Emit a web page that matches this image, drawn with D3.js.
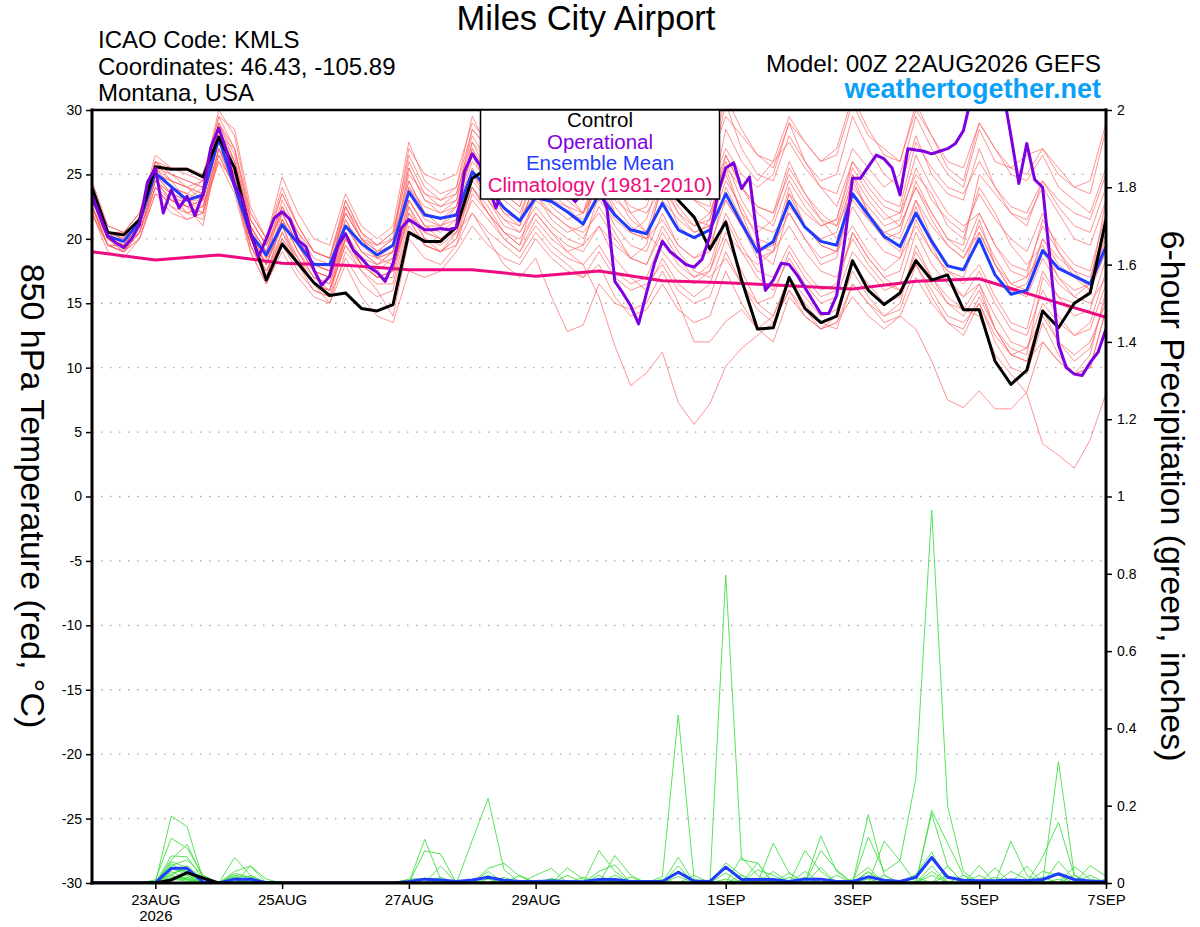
<!DOCTYPE html>
<html><head><meta charset="utf-8">
<script src="https://cdn.jsdelivr.net/npm/d3@7"></script>
<style>
body{margin:0;background:#fff}
svg{display:block}
text{font-family:"Liberation Sans",Arial,Helvetica,sans-serif}
</style>
</head><body>
<svg id="c" width="1200" height="927"></svg>
<script>
// ---------------- DATA ----------------
const startTime = Date.UTC(2026, 7, 22, 0);
const endTime = Date.UTC(2026, 8, 7, 0);
const tempTicks = [-30,-25,-20,-15,-10,-5,0,5,10,15,20,25,30];
const precipTicks = [0,0.2,0.4,0.6,0.8,1,1.2,1.4,1.6,1.8,2];
const precipTickLabels = ["0","0.2","0.4","0.6","0.8","1","1.2","1.4","1.6","1.8","2"];
const xTickDates = ["2026-08-23","2026-08-25","2026-08-27","2026-08-29","2026-09-01","2026-09-03","2026-09-05","2026-09-07"];
const xTickLabels = ["23AUG","25AUG","27AUG","29AUG","1SEP","3SEP","5SEP","7SEP"];
const xTickSubLabels = ["2026","","","","","","",""];
const legendLabels = ["Control","Operational","Ensemble Mean","Climatology (1981-2010)"];

// 6-hourly control (black)
const controlTemp = [24.0,20.5,20.3,21.5, 25.6,25.4,25.4,24.8, 27.9,25.5,20.5,16.8, 19.6,18.1,16.6,15.6, 15.8,14.6,14.4,14.9, 20.5,19.8,19.8,20.9, 24.7,25.5,25.0,24.3, 25.2,24.6,25.4,24.0, 25.0,25.8,24.6,25.3, 24.4,23.0,21.7,19.2, 21.3,16.8,13.0,13.1, 17.0,14.6,13.5,14.0, 18.3,16.0,14.9,15.8, 18.3,16.8,17.2,14.5, 14.5,10.5,8.7,9.8, 14.4,13.1,15.0,15.8, 21.5];
// 6-hourly ensemble mean (blue)
const meanTemp = [23.3,20.2,19.8,21.3, 25.1,24.05,23.0,23.4, 27.8,24.05,20.4,18.75, 21.1,19.65,18.0,18.0, 21.0,19.65,18.75,19.5, 23.65,21.85,21.6,21.85, 25.2,23.9,22.4,21.4, 23.2,22.9,22.1,21.15, 23.5,21.85,20.7,20.4, 22.75,20.7,20.1,20.7, 23.5,21.2,19.0,19.8, 22.9,20.9,19.8,19.5, 23.5,21.85,20.2,19.4, 22.0,19.8,17.9,17.6, 20.0,17.2,15.7,16.0, 19.1,17.7,17.1,16.5, 19.4];
// 3-hourly operational (purple)
const operationalTemp = [23.4,21.8,20.2,19.7,19.3,20.0,21.1,24.4, 25.5,22.0,23.8,22.4,23.3,21.8,23.5,27.1, 28.6,26.8,24.2,23.0,20.5,18.6,20.0,21.6, 22.1,21.5,19.9,19.4,17.6,16.4,17.1,19.4, 20.4,19.1,18.5,17.8,17.4,16.7,18.1,20.8, 21.5,21.1,20.7,20.7,20.8,20.7,20.9,25.2, 26.6,25.7,24.0,22.4,24.2,25.5,25.0,24.4, 24.0,24.6,25.2,24.1,23.5,22.9,23.6,24.6, 24.0,22.4,16.7,15.8,14.8,13.4,15.8,18.1, 19.8,19.0,18.5,18.0,17.8,18.4,20.2,23.5, 25.5,25.9,23.9,24.8,20.0,16.0,16.8,18.1, 18.0,17.2,16.2,15.2,14.2,14.2,15.6,19.8, 24.7,24.7,25.6,26.5,26.2,25.5,23.4,27.0, 26.9,26.8,26.6,26.8,27.0,27.4,28.4,31.0, 32.0,32.4,32.0,31.5,28.0,24.3,27.4,24.6, 24.0,18.0,11.8,10.0,9.5,9.4,10.4,11.2, 13.0];
// daily climatology (pink)
const climTemp = [19.0,18.35,18.75,18.1,17.95,17.6,17.6,17.1,17.5,16.75,16.6,16.35,16.1,16.7,16.9,15.4,13.9];

// 6-hourly ensemble members (red)
const memberTemp = [
[23.5,20.0,19.5,21.0, 25.5,24.0,23.5,23.0, 28.5,24.5,20.0,18.0, 22.0,19.5,17.5,17.0, 21.5,19.0,18.0,19.0, 24.5,22.0,21.0,22.5, 26.5,24.0,22.0,21.0, 24.5,23.0,22.5,21.0, 25.0,22.0,20.5,20.0, 24.0,21.0,20.0,21.5, 25.5,22.0,19.0,19.5, 24.0,21.0,19.5,19.0, 25.0,22.0,20.0,19.0, 23.0,20.0,18.0,17.5, 21.5,18.0,16.0,16.5, 20.0,18.0,17.0,16.0, 20.5],
[23.0,20.5,20.0,21.5, 25.0,24.5,24.0,23.5, 29.0,26.0,21.0,19.0, 23.0,20.5,18.5,18.0, 22.0,20.0,19.5,20.5, 25.5,23.0,22.5,23.5, 28.0,26.0,24.0,23.0, 27.0,26.0,25.0,24.5, 29.0,26.5,25.0,24.0, 28.0,25.5,24.0,25.0, 30.5,27.0,25.0,24.5, 28.0,26.0,24.5,25.0, 29.5,27.0,25.0,24.0, 28.0,25.0,23.5,23.0, 27.0,24.0,22.0,21.5, 24.0,22.0,20.0,19.5, 23.0],
[22.5,19.5,19.5,20.5, 24.0,22.5,22.0,22.5, 27.0,25.0,20.5,18.5, 21.5,19.0,17.0,16.5, 20.0,18.0,17.5,18.5, 23.0,21.0,21.0,22.0, 27.5,25.0,23.5,22.5, 26.0,24.0,23.0,23.5, 27.5,25.0,24.0,23.0, 27.0,26.0,25.5,26.0, 29.5,28.0,26.5,25.5, 29.0,27.5,26.0,26.5, 30.5,28.0,27.0,26.0, 30.0,28.0,26.0,25.5, 29.0,27.0,25.0,24.5, 26.5,24.0,23.0,22.0, 25.5],
[24.5,21.0,20.5,22.0, 26.5,25.5,25.0,24.5, 30.0,28.0,22.0,20.0, 24.8,22.0,20.0,19.5, 23.5,21.0,20.0,21.0, 27.5,24.5,23.5,24.0, 29.5,27.0,25.5,26.0, 31.0,28.0,26.0,25.0, 28.0,26.0,24.5,25.5, 30.0,27.0,25.0,24.0, 27.0,25.0,24.0,25.0, 29.0,26.0,24.0,23.5, 27.0,25.5,24.0,25.0, 29.5,27.0,25.0,24.0, 28.5,26.0,25.5,25.0, 27.0,25.0,24.0,23.5, 28.5],
[23.0,20.0,19.0,21.0, 25.5,25.0,24.5,24.0, 28.0,27.0,21.5,19.5, 22.5,20.0,18.0,17.5, 21.5,19.5,18.5,19.0, 24.0,22.5,22.0,23.0, 28.5,27.0,25.0,24.0, 29.0,27.0,25.5,24.0, 27.0,25.0,23.5,23.0, 26.5,24.0,23.0,22.5, 28.5,26.0,24.5,26.0, 27.5,25.5,24.0,22.5, 26.0,24.0,22.5,22.0, 25.0,23.5,21.0,20.0, 24.0,22.0,19.5,18.0, 19.5,17.0,15.5,15.0, 17.0],
[22.0,19.5,19.0,20.5, 24.5,23.0,22.5,23.0, 27.5,25.0,20.0,18.0, 21.0,19.5,17.5,17.0, 21.0,19.0,18.5,19.0, 23.5,21.5,21.0,21.5, 25.0,23.0,21.0,20.5, 22.5,21.0,20.0,19.5, 23.5,21.0,19.5,19.0, 22.0,19.5,18.5,19.5, 23.0,21.0,18.5,19.0, 23.5,21.0,20.0,20.5, 24.5,22.0,20.5,20.0, 23.0,21.0,19.5,18.5, 21.0,18.5,16.5,16.0, 20.0,18.5,17.5,17.0, 21.0],
[23.5,20.5,20.0,21.5, 25.0,23.5,22.0,21.5, 26.5,24.0,19.5,17.0, 20.5,18.5,16.5,16.0, 19.5,18.0,17.0,17.5, 22.5,20.0,19.5,20.5, 24.0,22.5,20.5,19.5, 23.5,21.5,20.5,21.0, 26.0,23.5,21.5,20.5, 24.5,22.0,21.0,22.0, 26.0,23.0,21.0,20.5, 22.0,20.0,18.5,19.0, 22.5,20.5,19.0,18.5, 21.0,19.0,17.5,17.0, 20.5,18.0,16.5,17.0, 21.5,19.5,18.0,17.5, 22.0],
[22.5,20.0,19.5,21.0, 25.0,24.0,23.5,24.5, 28.5,25.5,21.0,19.0, 22.5,20.5,19.0,18.5, 23.0,20.5,19.0,20.0, 24.5,22.0,21.5,22.0, 26.0,24.5,22.5,21.5, 24.0,23.0,22.0,21.5, 23.0,21.5,20.5,21.5, 25.5,23.0,21.5,21.0, 24.5,22.5,20.0,19.5, 22.0,20.0,18.0,18.5, 24.0,22.5,21.0,21.5, 25.5,23.0,21.5,20.5, 23.5,21.5,20.0,19.0, 22.0,19.0,17.5,16.0, 19.0],
[23.0,20.0,19.5,21.0, 26.0,24.5,23.0,22.5, 27.0,24.5,20.5,18.0, 21.5,19.0,17.0,16.5, 21.0,19.0,18.0,18.5, 24.0,22.0,21.5,22.5, 27.0,24.0,22.0,21.5, 25.5,24.0,23.0,22.0, 24.5,23.0,22.0,22.5, 26.0,24.5,23.0,22.0, 25.0,22.0,20.5,21.5, 25.5,23.5,22.0,21.0, 25.0,23.0,21.5,22.0, 26.5,24.0,22.0,21.0, 22.0,19.5,18.0,17.5, 21.0,19.0,17.0,16.5, 20.0],
[22.5,19.5,19.0,20.0, 23.5,23.0,23.0,24.0, 28.0,26.0,21.5,19.5, 22.0,19.5,18.0,17.5, 22.5,20.0,18.5,19.5, 23.0,21.0,20.5,21.5, 25.5,23.0,21.5,21.0, 24.5,22.5,21.5,22.0, 25.0,22.5,21.0,20.0, 23.0,21.5,20.5,21.0, 25.5,24.0,22.5,22.0, 26.0,23.5,21.5,20.0, 23.0,21.5,20.5,21.0, 24.0,22.0,20.0,19.5, 25.0,23.5,22.0,21.0, 24.5,22.5,21.0,20.5, 24.0],
[22.0,19.0,18.5,20.0, 24.0,22.5,21.5,22.0, 26.5,24.0,19.0,16.5, 19.5,17.5,16.0,15.5, 18.5,16.5,15.5,16.0, 21.0,19.5,19.0,20.0, 23.0,21.5,20.0,19.0, 21.0,19.5,18.5,18.0, 19.5,17.5,16.5,17.0, 20.0,18.0,17.0,17.5, 21.5,19.0,17.0,16.0, 18.5,16.5,15.0,15.5, 19.0,17.5,16.0,16.5, 20.5,18.0,16.5,15.5, 17.5,15.0,13.0,12.5, 16.0,14.0,12.5,13.0, 16.5],
[23.0,20.0,19.5,20.5, 24.5,23.0,22.5,21.0, 27.0,24.0,19.5,17.5, 20.0,18.0,16.5,15.0, 19.0,17.5,16.0,14.0, 20.0,18.5,18.0,19.5, 22.0,20.5,19.5,18.5, 20.5,19.0,18.0,17.0, 18.0,15.5,14.0,14.5, 16.5,14.5,13.5,14.0, 17.5,15.0,13.0,12.0, 15.5,14.0,13.0,14.0, 17.5,15.5,14.0,14.5, 18.0,16.0,14.0,13.5, 15.0,12.0,10.0,9.5, 13.5,11.0,9.5,10.0, 14.5],
[22.5,20.0,19.0,20.5, 24.0,23.0,22.0,22.5, 26.0,24.5,20.0,18.0, 21.0,18.0,16.0,15.5, 20.0,18.0,17.0,17.5, 22.0,20.0,19.0,19.5, 23.5,22.0,20.5,20.0, 22.0,20.5,19.0,19.5, 21.0,18.5,17.0,16.0, 18.5,16.5,15.5,16.5, 20.0,17.5,15.0,14.0, 17.0,15.0,13.5,13.0, 16.5,15.0,14.0,15.0, 19.5,17.0,15.0,14.0, 16.0,13.0,11.0,10.5, 14.5,12.0,10.5,11.5, 15.5],
[23.5,20.5,19.5,21.0, 25.5,24.0,23.0,22.0, 28.0,25.5,20.5,18.5, 21.5,19.0,17.5,17.0, 20.5,18.5,17.0,17.0, 22.0,20.5,20.0,21.0, 24.5,23.0,21.5,20.5, 23.0,22.0,21.0,20.0, 22.5,20.5,18.5,18.0, 20.5,18.5,17.0,18.0, 22.0,19.5,17.5,17.0, 19.5,17.5,16.0,16.5, 20.5,18.5,17.0,17.5, 21.5,19.0,17.5,16.5, 18.0,15.5,13.5,13.0, 17.5,15.5,14.0,14.5, 18.5],
[22.0,19.5,19.0,20.5, 24.5,23.5,23.0,23.5, 27.5,25.0,19.5,17.0, 20.0,18.5,17.0,16.0, 19.5,17.5,16.5,16.5, 21.5,19.5,19.0,20.5, 24.0,22.0,20.0,19.0, 21.5,20.0,19.0,18.0, 15.5,11.7,8.6,9.6, 11.2,7.3,5.6,7.2, 10.1,11.5,12.5,13.5, 16.0,14.5,13.0,13.5, 16.5,15.0,13.5,14.0, 17.0,15.0,13.5,12.5, 15.0,12.5,11.0,11.5, 14.0,12.0,11.0,12.0, 15.0],
[23.0,20.5,20.0,21.5, 25.0,23.5,22.5,23.0, 28.5,26.0,20.5,18.0, 21.0,18.5,16.5,16.0, 20.0,18.0,17.0,17.5, 23.0,21.0,20.0,20.5, 22.0,20.0,18.0,17.0, 18.5,15.5,12.8,13.3, 16.5,15.0,14.5,15.0, 17.5,15.1,12.0,12.0, 13.6,14.5,13.0,14.0, 17.0,15.5,14.0,14.5, 18.0,16.5,15.0,15.5, 19.0,17.0,15.5,14.5, 16.5,14.0,12.0,11.5, 15.0,13.5,12.5,13.5, 17.5],
[24.0,21.0,20.5,22.0, 26.0,25.0,24.0,23.0, 29.0,27.0,22.0,20.0, 23.5,21.0,19.0,18.5, 22.5,20.5,19.5,20.0, 26.0,23.5,22.5,23.0, 27.0,25.0,23.0,22.0, 25.0,23.5,22.5,22.0, 26.0,24.0,22.5,22.0, 24.0,22.0,20.5,21.0, 23.0,21.0,19.5,19.0, 21.0,19.0,17.5,17.0, 20.0,18.0,16.5,16.0, 18.5,16.5,15.0,14.5, 14.0,11.0,9.5,8.0, 4.1,3.2,2.2,4.4, 8.0],
[22.5,19.5,19.0,20.0, 23.5,22.0,21.5,22.0, 26.0,23.5,19.0,16.5, 19.0,17.0,15.5,15.0, 18.0,15.5,14.0,13.5, 17.5,17.0,17.5,19.0, 21.0,19.5,18.5,18.0, 20.0,18.5,17.5,17.0, 19.0,17.0,16.0,16.5, 18.0,16.0,15.0,15.5, 19.0,16.5,14.5,13.5, 16.0,14.0,13.0,13.5, 15.5,14.0,13.0,14.0, 13.0,10.5,7.5,6.9, 8.2,6.8,6.8,8.1, 12.0,10.5,9.5,11.0, 16.0],
[23.5,20.5,20.5,22.0, 26.0,25.5,25.5,25.0, 29.5,28.5,22.5,20.0, 24.0,21.0,19.0,18.5, 22.0,20.0,19.0,20.0, 27.0,25.0,24.5,25.0, 29.0,27.5,26.0,25.0, 28.0,27.0,26.5,27.5, 30.5,28.0,26.0,25.5, 29.5,28.5,27.0,26.0, 31.0,28.5,26.5,26.0, 29.5,27.5,26.0,27.0, 31.0,28.5,26.5,26.0, 30.5,28.0,25.5,24.5, 29.0,27.0,25.5,26.5, 27.0,25.5,24.0,24.5, 29.0],
[22.0,19.5,19.5,21.0, 25.0,24.5,24.0,24.5, 29.0,26.5,21.0,19.0, 22.0,19.5,17.5,17.0, 20.0,18.5,18.0,19.0, 25.5,23.0,22.0,22.5, 26.5,25.0,23.5,22.5, 26.0,24.5,23.5,22.0, 24.0,22.0,20.5,20.0, 21.5,19.5,18.5,19.0, 24.0,21.5,19.0,18.0, 22.5,21.0,19.5,19.0, 21.0,19.0,17.5,18.5, 22.5,19.5,17.0,15.5, 16.5,13.0,11.5,11.0, 17.0,15.5,15.0,16.0, 19.5],
[23.0,20.0,19.5,21.5, 26.0,25.0,24.5,24.0, 29.5,27.0,21.5,19.5, 23.5,21.0,19.0,18.5, 23.0,20.5,19.5,20.5, 26.5,24.0,23.0,23.5, 27.5,26.0,24.5,23.5, 26.0,25.0,24.0,23.0, 27.0,24.5,22.0,20.5, 19.0,17.5,16.5,17.5, 20.5,19.0,18.0,19.0, 23.5,22.0,21.0,21.5, 26.0,24.5,23.0,22.5, 27.5,25.5,24.0,23.5, 26.0,24.0,22.5,22.0, 24.5,23.0,22.0,21.5, 25.0],
[22.5,19.5,19.0,20.5, 24.5,23.5,23.0,23.0, 27.5,24.5,20.0,17.5, 20.5,18.0,16.5,16.0, 20.5,18.0,17.0,17.5, 22.5,20.5,20.0,21.0, 25.0,23.5,22.5,21.5, 23.5,22.0,21.0,20.5, 22.0,20.0,18.5,18.0, 21.0,19.0,17.5,17.0, 18.5,16.5,15.0,15.5, 19.0,17.0,15.5,16.0, 20.5,18.5,17.0,16.0, 18.0,15.5,13.5,13.0, 15.5,13.0,11.0,10.5, 12.0,10.5,9.5,10.0, 14.5],
[23.0,20.5,20.0,21.5, 25.5,24.5,24.0,23.5, 28.0,25.5,21.0,18.5, 22.5,20.0,18.0,17.5, 22.0,20.0,19.0,19.5, 25.0,23.5,23.0,24.0, 28.5,27.0,25.5,25.0, 29.5,27.5,26.0,25.0, 28.5,26.5,25.0,24.5, 27.5,25.0,23.5,23.0, 26.5,24.0,22.5,22.0, 25.0,23.0,21.5,21.0, 23.5,21.5,20.0,20.5, 24.5,22.0,20.0,19.0, 22.0,19.5,17.5,17.0, 19.0,17.0,16.0,16.5, 21.5],
[23.5,20.5,19.5,21.0, 24.5,23.0,22.5,22.0, 27.0,24.0,19.5,17.0, 21.5,19.5,18.0,17.5, 22.5,20.0,18.5,18.0, 21.5,19.5,19.0,20.0, 24.0,22.0,20.5,19.5, 22.0,20.5,19.5,19.0, 21.0,19.5,18.5,19.5, 24.5,22.5,21.0,21.5, 26.5,24.0,22.0,21.0, 24.5,22.5,21.0,21.5, 25.5,23.5,22.0,21.0, 24.0,21.5,19.5,18.5, 20.5,18.0,16.0,15.5, 18.5,16.5,15.5,16.5, 23.0]
];

// 6-hourly precipitation (inches)
const meanPrecip = [0,0,0,0, 0.001,0.038,0.038,0.003, 0,0.01,0.01,0.001, 0,0,0,0, 0,0,0,0, 0.004,0.01,0.008,0.004, 0.008,0.015,0.007,0.004, 0.004,0.005,0.004,0.003, 0.009,0.009,0.004,0.004, 0.004,0.028,0.005,0.004, 0.041,0.009,0.009,0.009, 0.004,0.01,0.01,0.004, 0.004,0.016,0.007,0.004, 0.015,0.066,0.015,0.007, 0.006,0.006,0.008,0.006, 0.009,0.024,0.009,0.005, 0.003];
const controlPrecip = [0,0,0,0, 0,0.008,0.027,0.013, 0,0,0,0, 0,0,0,0, 0,0,0,0, 0,0,0,0, 0,0,0,0, 0,0,0,0, 0,0,0,0, 0,0,0,0, 0,0,0,0, 0,0,0,0, 0,0,0,0, 0,0,0,0, 0,0,0,0, 0,0,0,0, 0];
const memberPrecip = [
[0,0,0,0, 0,.173,.146,.01, 0,.02,.015,0, 0,0,0,0, 0,0,0,0, 0,0,0,0, 0,.03,0,0, 0,0,0,0, .084,.03,0,0, 0,.067,0,0, .052,.02,0,0, 0,0,.122,.03, 0,.03,0,0, 0,.044,0,0, 0,0,.108,.02, 0,0,.043,.01, 0],
[0,0,0,0, .008,.116,.09,.02, 0,.066,.02,0, 0,0,0,0, 0,0,0,0, 0,.113,.01,0, 0,0,0,0, 0,0,.039,.01, 0,0,0,0, 0,0,0,0, 0,.067,.02,0, 0,0,0,0, 0,.177,.02,0, 0,.188,.103,.02, 0,0,0,0, 0,.056,.01,0, 0],
[0,0,0,0, 0,.06,.1,.015, 0,0,.044,.01, 0,0,0,0, 0,0,0,0, 0,.083,.075,0, 0,0,0,0, 0,0,0,0, 0,0,0,0, .017,.435,.01,0, 0,0,0,.103, .026,0,0,0, 0,0,0,0, .022,.08,0,0, 0,0,0,0, .067,.157,.02,0, 0],
[0,0,0,0, 0,.07,.068,.01, 0,.03,.044,0, 0,0,0,0, 0,0,0,0, 0,0,.044,0, .11,.219,.035,0, 0,0,0,0, 0,.071,.02,0, 0,0,0,0, 0,0,0,0, 0,.084,.03,0, 0,0,0,0, 0,0,0,0, .045,0,0,0, 0,0,0,0, 0],
[0,0,0,0, 0,.055,.04,0, 0,.015,.01,0, 0,0,0,0, 0,0,0,0, 0,0,0,0, 0,.038,.051,.017, 0,0,0,0, 0,0,0,0, 0,0,0,0, .797,.06,.052,0, 0,0,.084,.034, 0,0,.108,.058, 0,0,0,0, 0,.039,0,0, 0,0,0,.045, .017],
[0,0,0,0, 0,.045,.06,.02, 0,0,.01,0, 0,0,0,0, 0,0,0,0, 0,0,0,0, 0,0,0,0, .02,.038,0,0, .03,.047,0,0, 0,0,0,0, 0,0,.034,.02, 0,0,0,0, 0,.119,.03,.058, .27,.965,.2,.03, 0,0,0,.044, 0,0,0,0, 0],
[0,0,0,0, 0,.035,.03,0, 0,.02,0,0, 0,0,0,0, 0,0,0,0, .01,.012,0,0, 0,0,0,0, 0,0,0,0, 0,0,0,0, 0,.044,0,0, 0,0,0,0, .026,0,0,0, 0,0,0,0, 0,.18,.044,0, 0,0,0,0, 0,.314,.02,0, 0],
[0,0,0,0, 0,.05,.025,0, 0,0,.02,0, 0,0,0,0, 0,0,0,0, 0,0,0,0, 0,.02,0,0, 0,.01,0,0, .02,0,0,0, 0,0,0,0, .026,0,0,0, 0,0,.04,0, 0,.028,0,0, 0,0,.044,0, 0,0,0,0, .03,.02,0,0, 0],
[0,0,0,0, 0,.02,.045,.01, 0,.025,.015,0, 0,0,0,0, 0,0,0,0, 0,0,0,0, 0,0,0,0, 0,0,.02,0, 0,0,0,0, 0,.017,0,0, 0,0,.052,0, 0,.03,0,0, 0,0,0,0, 0,.03,0,0, 0,0,.03,.01, 0,0,0,0, 0],
[0,0,0,0, 0,.04,.02,0, 0,.01,0,0, 0,0,0,0, 0,0,0,0, 0,0,0,0, 0,0,.015,0, 0,0,0,0, 0,.02,0,0, 0,0,0,0, 0,.02,0,0, 0,0,0,0, .01,.04,0,0, 0,0,0,.02, 0,0,0,0, 0,0,.02,0, 0],
[0,0,0,0, 0,.025,.035,0, 0,0,.012,0, 0,0,0,0, 0,0,0,0, 0,0,.015,0, 0,0,0,0, 0,0,0,.015, 0,0,0,0, 0,0,.02,0, 0,0,0,.03, 0,0,0,0, 0,0,.02,0, 0,0,0,0, .02,0,0,0, 0,0,0,.02, 0],
[0,0,0,0, 0,.03,.01,0, 0,.015,0,0, 0,0,0,0, 0,0,0,0, 0,0,0,0, 0,0,0,.02, 0,0,0,0, 0,0,.015,0, 0,0,0,0, 0,0,0,0, .015,0,0,0, 0,0,0,0, .015,0,0,0, 0,.015,0,0, 0,0,0,0, .01],
[0,0,0,0, 0,.015,.02,0, 0,0,.008,0, 0,0,0,0, 0,0,0,0, 0,0,0,0, 0,0,0,0, 0,.012,0,0, 0,0,0,0, .01,0,0,0, 0,0,0,0, 0,0,0,.02, 0,0,0,0, 0,0,.02,0, 0,0,0,0, .015,0,0,0, 0],
[0,0,0,0, 0,.012,.015,0, 0,.01,0,0, 0,0,0,0, 0,0,0,0, 0,0,0,0, 0,.01,0,0, 0,0,0,0, .01,0,0,0, 0,0,0,0, 0,0,0,0, 0,.015,0,0, 0,0,0,0, 0,.02,0,0, 0,0,0,0, 0,.01,0,0, 0],
[0,0,0,0, 0,.01,.012,0, 0,0,.005,0, 0,0,0,0, 0,0,0,0, 0,0,0,0, 0,0,0,0, 0,0,0,0, 0,0,0,0, 0,0,0,0, .01,0,0,0, 0,0,0,0, 0,.01,0,0, 0,0,0,0, 0,0,0,0, 0,0,0,0, 0],
[0,0,0,0, 0,.008,.01,0, 0,.008,0,0, 0,0,0,0, 0,0,0,0, 0,0,0,0, 0,0,0,0, 0,0,0,0, 0,.005,0,0, 0,0,0,0, 0,0,0,0, 0,0,.01,0, 0,0,0,0, 0,0,0,0, 0,0,0,0, 0,0,0,0, 0],
[0,0,0,0, .005,.02,.008,0, 0,0,.006,0, 0,0,0,0, 0,0,0,0, 0,0,0,0, 0,0,0,0, 0,0,0,0, 0,0,0,0, 0,0,0,0, 0,0,0,0, 0,0,0,0, 0,0,0,0, 0,0,0,0, 0,0,0,0, 0,0,0,0, 0],
[0,0,0,0, 0,.01,.005,0, 0,0,0,0, 0,0,0,0, 0,0,0,0, 0,0,0,0, 0,0,0,0, 0,0,0,0, 0,0,0,0, 0,0,0,0, 0,.008,0,0, 0,0,0,0, 0,0,0,0, 0,0,0,0, 0,0,0,0, 0,0,0,0, 0]
];

// ---------------- CHART ----------------
const L = 92, R = 1106, T = 110, B = 883;
const svg = d3.select("#c");
const HOUR = 3600e3;
const x = d3.scaleUtc().domain([new Date(startTime), new Date(endTime)]).range([L, R]);
const yT = d3.scaleLinear().domain([-30, 30]).range([B, T]);
const yP = d3.scaleLinear().domain([0, 2]).range([B, T]);
const t6 = i => new Date(startTime + i * 6 * HOUR);
const t3 = j => new Date(startTime + j * 3 * HOUR);
const t24 = k => new Date(startTime + k * 24 * HOUR);

const C = {red:"#ff6464", green:"#44e044", black:"#000000", purple:"#7f00df", blue:"#1f3dff", pink:"#ee0a80", grid:"#a8a8a8"};

svg.append("defs").append("clipPath").attr("id","plotclip")
  .append("rect").attr("x", L).attr("y", T).attr("width", R - L).attr("height", B - T);

// gridlines
svg.append("g").selectAll("line")
  .data(tempTicks.filter(t => t > -30 && t < 30)).join("line")
  .attr("x1", L).attr("x2", R)
  .attr("y1", d => yT(d)).attr("y2", d => yT(d))
  .attr("stroke", C.grid).attr("stroke-width", 1.3)
  .attr("stroke-dasharray", "1.5,7.5");

const plot = svg.append("g").attr("clip-path", "url(#plotclip)");
const lineT6 = d3.line().x((d, i) => x(t6(i))).y(d => yT(d));
const lineT3 = d3.line().x((d, i) => x(t3(i))).y(d => yT(d));
const lineT24 = d3.line().x((d, i) => x(t24(i))).y(d => yT(d));
const lineP6 = d3.line().x((d, i) => x(t6(i))).y(d => yP(d));

plot.append("g").selectAll("path").data(memberTemp).join("path")
  .attr("d", lineT6).attr("fill","none").attr("stroke", C.red).attr("stroke-width", 0.7).attr("stroke-linejoin","round");
plot.append("g").selectAll("path").data(memberPrecip).join("path")
  .attr("d", lineP6).attr("fill","none").attr("stroke", C.green).attr("stroke-width", 0.9).attr("stroke-linejoin","round");

plot.append("path").datum(climTemp).attr("d", lineT24)
  .attr("fill","none").attr("stroke", C.pink).attr("stroke-width", 3);
plot.append("path").datum(meanPrecip).attr("d", lineP6)
  .attr("fill","none").attr("stroke", C.blue).attr("stroke-width", 3).attr("stroke-linejoin","round");
plot.append("path").datum(controlPrecip).attr("d", lineP6)
  .attr("fill","none").attr("stroke", C.black).attr("stroke-width", 3).attr("stroke-linejoin","round");
plot.append("path").datum(meanTemp).attr("d", lineT6)
  .attr("fill","none").attr("stroke", C.blue).attr("stroke-width", 3).attr("stroke-linejoin","round");
plot.append("path").datum(controlTemp).attr("d", lineT6)
  .attr("fill","none").attr("stroke", C.black).attr("stroke-width", 3).attr("stroke-linejoin","round");
plot.append("path").datum(operationalTemp).attr("d", lineT3)
  .attr("fill","none").attr("stroke", C.purple).attr("stroke-width", 3).attr("stroke-linejoin","round");

// axes
const axL = svg.append("g").attr("transform", `translate(${L},0)`)
  .call(d3.axisLeft(yT).tickValues(tempTicks).tickSize(6).tickPadding(4).tickFormat(d => String(d)));
const axR = svg.append("g").attr("transform", `translate(${R},0)`)
  .call(d3.axisRight(yP).tickValues(precipTicks).tickSize(6).tickPadding(5).tickFormat((d, i) => precipTickLabels[i]));
const xTicks = xTickDates.map(s => new Date(s + "T00:00:00Z"));
const axB = svg.append("g").attr("transform", `translate(0,${B})`)
  .call(d3.axisBottom(x).tickValues(xTicks).tickSize(6).tickPadding(5).tickFormat((d, i) => xTickLabels[i]));
[axL, axR, axB].forEach(g => {
  g.select(".domain").remove();
  g.selectAll(".tick line").attr("stroke","#000").attr("stroke-width",1.5);
  g.selectAll(".tick text").attr("fill","#000").style("font-family",'"Liberation Sans",Arial,sans-serif');
});
axL.selectAll(".tick text").style("font-size","14px");
axR.selectAll(".tick text").style("font-size","14px");
axB.selectAll(".tick text").style("font-size","15px");
axB.selectAll(".tick").append("text")
  .attr("y", 27).attr("dy","0.71em").attr("fill","#000").attr("text-anchor","middle")
  .style("font-size","15px").style("font-family",'"Liberation Sans",Arial,sans-serif')
  .text((d, i) => xTickSubLabels[i]);

// frame
const frame = svg.append("g").attr("stroke","#000").attr("stroke-linecap","square");
frame.append("line").attr("x1",L).attr("x2",R).attr("y1",T).attr("y2",T).attr("stroke-width",2.5);
frame.append("line").attr("x1",L).attr("x2",R).attr("y1",B).attr("y2",B).attr("stroke-width",3);
frame.append("line").attr("x1",L).attr("x2",L).attr("y1",T).attr("y2",B).attr("stroke-width",3);
frame.append("line").attr("x1",R).attr("x2",R).attr("y1",T).attr("y2",B).attr("stroke-width",3);

// legend
const lg = svg.append("g");
lg.append("rect").attr("x",480.5).attr("y",T).attr("width",239).attr("height",89)
  .attr("fill","#fff").attr("stroke","#000").attr("stroke-width",1.5);
const legendColors = [C.black, C.purple, C.blue, C.pink];
lg.selectAll("text").data(legendLabels).join("text")
  .attr("x", 600).attr("y", (d, i) => 127 + i * 21.6)
  .attr("text-anchor","middle").attr("fill", (d, i) => legendColors[i])
  .style("font-size","20.5px").text(d => d);

// titles
svg.append("text").attr("x",586).attr("y",30).attr("text-anchor","middle")
  .style("font-size","34.5px").text("Miles City Airport");
const info = ["ICAO Code: KMLS","Coordinates: 46.43, -105.89","Montana, USA"];
svg.append("g").selectAll("text").data(info).join("text")
  .attr("x",98).attr("y",(d,i)=>48 + i*26.5).style("font-size","24px").text(d=>d);
svg.append("text").attr("x",1101).attr("y",72).attr("text-anchor","end")
  .style("font-size","24.3px").text("Model: 00Z 22AUG2026 GEFS");
svg.append("text").attr("x",1101).attr("y",98).attr("text-anchor","end")
  .style("font-size","27px").style("font-weight","bold").attr("fill","#0aa0f7").text("weathertogether.net");

// axis titles
svg.append("text").attr("transform","translate(33,496) rotate(90)")
  .attr("text-anchor","middle").attr("dominant-baseline","central")
  .style("font-size","34px").text("850 hPa Temperature (red, \u00B0C)");
svg.append("text").attr("transform","translate(1173,496) rotate(90)")
  .attr("text-anchor","middle").attr("dominant-baseline","central")
  .style("font-size","34px").text("6-hour Precipitation (green, inches)");
</script>
</body></html>
